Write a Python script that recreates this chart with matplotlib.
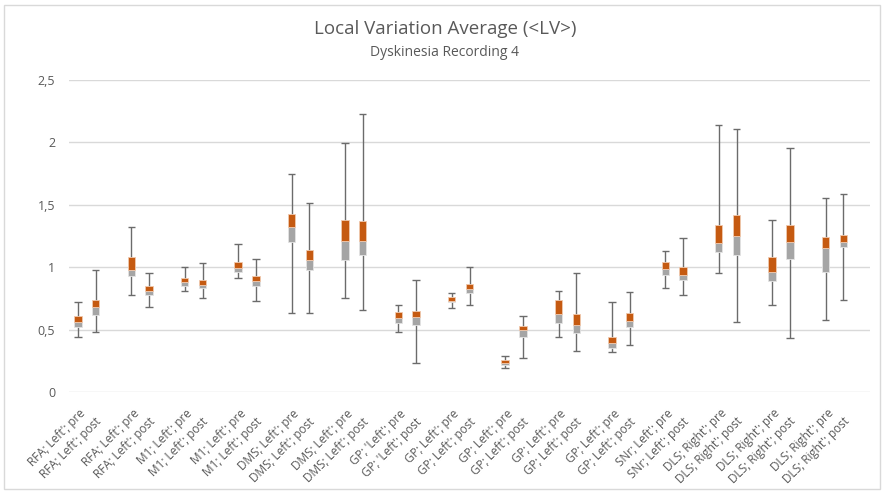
import matplotlib
matplotlib.use("Agg")
import matplotlib.pyplot as plt
from matplotlib.patches import Rectangle
import numpy as np

# Recording sites (one category per pair of pre/post boxes)
regions = ["RFA; Left'", "RFA; Left'", "M1; Left'", "M1; Left'",
           "DMS; Left'", "DMS; Left'", "GP; 'Left'", "GP; Left'",
           "GP; Left'", "GP; Left'", "GP; Left'", "SNr; Left'",
           "DLS; Right'", "DLS; Right'", "DLS; Right'"]

# Five-number summaries of <LV>, pre condition
pre_min = [0.44, 0.78, 0.81, 0.91, 0.63, 0.75, 0.48, 0.67, 0.19, 0.44, 0.32, 0.83, 0.95, 0.70, 0.58]
pre_q1  = [0.52, 0.93, 0.85, 0.96, 1.20, 1.06, 0.55, 0.72, 0.22, 0.55, 0.35, 0.94, 1.12, 0.89, 0.96]
pre_med = [0.56, 0.98, 0.88, 0.99, 1.32, 1.21, 0.59, 0.73, 0.235, 0.625, 0.39, 0.985, 1.19, 0.96, 1.15]
pre_q3  = [0.61, 1.08, 0.91, 1.04, 1.43, 1.38, 0.64, 0.76, 0.255, 0.74, 0.44, 1.04, 1.34, 1.08, 1.245]
pre_max = [0.72, 1.325, 1.00, 1.185, 1.75, 1.995, 0.70, 0.795, 0.29, 0.81, 0.725, 1.13, 2.14, 1.38, 1.555]

# Five-number summaries of <LV>, post condition
post_min = [0.48, 0.68, 0.75, 0.73, 0.63, 0.66, 0.23, 0.70, 0.27, 0.33, 0.38, 0.78, 0.56, 0.43, 0.74]
post_q1  = [0.62, 0.78, 0.83, 0.85, 0.98, 1.095, 0.54, 0.79, 0.44, 0.475, 0.52, 0.895, 1.10, 1.065, 1.165]
post_med = [0.68, 0.81, 0.86, 0.89, 1.06, 1.21, 0.60, 0.825, 0.50, 0.54, 0.57, 0.94, 1.25, 1.205, 1.205]
post_q3  = [0.74, 0.85, 0.90, 0.93, 1.135, 1.37, 0.65, 0.865, 0.53, 0.625, 0.635, 1.00, 1.42, 1.34, 1.255]
post_max = [0.98, 0.95, 1.03, 1.065, 1.515, 2.225, 0.895, 1.00, 0.605, 0.95, 0.80, 1.235, 2.11, 1.955, 1.59]

yticks = [0, 0.5, 1, 1.5, 2, 2.5]
ytick_labels = ["0", "0,5", "1", "1,5", "2", "2,5"]

ORANGE = "#c55a11"
GREY = "#a5a5a5"
WHISKER = "#6b6b6b"
GRID = "#d9d9d9"
TEXT = "#595959"

plt.rcParams["font.family"] = ["Open Sans", "DejaVu Sans"]

fig = plt.figure(figsize=(8.84, 4.92), dpi=100)
W, H = 884, 492
ax = fig.add_axes([69 / W, 1 - 392 / H, (870 - 69) / W, (392 - 80) / H])

n = len(regions)
x = np.arange(n)
offsets = {"pre": -1 / 3, "post": 0.0}
box_w = 0.135


def draw_boxes(xpos, lo, q1, med, q3, hi):
    lo, q1, med, q3, hi = map(np.asarray, (lo, q1, med, q3, hi))
    # whiskers with caps
    ax.vlines(xpos, lo, hi, color=WHISKER, lw=1.0, zorder=2)
    ax.hlines(lo, xpos - box_w / 2, xpos + box_w / 2, color=WHISKER, lw=1.0, zorder=2)
    ax.hlines(hi, xpos - box_w / 2, xpos + box_w / 2, color=WHISKER, lw=1.0, zorder=2)
    # lower half of the box (Q1 to median) and upper half (median to Q3)
    ax.bar(xpos, med - q1, bottom=q1, width=box_w, color=GREY,
           edgecolor="#e4e4e4", linewidth=0.6, zorder=3)
    ax.bar(xpos, q3 - med, bottom=med, width=box_w, color=ORANGE,
           edgecolor="#f0c9ae", linewidth=0.6, zorder=3)


draw_boxes(x + offsets["pre"], pre_min, pre_q1, pre_med, pre_q3, pre_max)
draw_boxes(x + offsets["post"], post_min, post_q1, post_med, post_q3, post_max)

ax.set_xlim(-0.5, n - 0.5)
ax.set_ylim(0, 2.5)
ax.set_yticks(yticks)
ax.set_yticklabels(ytick_labels)
ax.yaxis.grid(True, color=GRID, lw=1.0)
ax.set_axisbelow(True)
for s in ax.spines.values():
    s.set_visible(False)
ax.tick_params(axis="y", length=0, pad=10, labelsize=9, labelcolor=TEXT)
ax.set_xticks([])

# two-line category labels, rotated
for i, reg in enumerate(regions):
    ax.annotate(f"{reg}; pre\n{reg}; post",
                xy=(i - 0.24, 0), xycoords=("data", "axes fraction"),
                xytext=(0, -8), textcoords="offset points",
                rotation=45, rotation_mode="anchor",
                ha="right", va="top", multialignment="left",
                fontsize=8.5, color=TEXT, linespacing=1.4)

fig.text(445 / W, 1 - 29 / H, "Local Variation Average (<LV>)",
         ha="center", va="center", fontsize=13.5, color=TEXT)
fig.text(445 / W, 1 - 52 / H, "Dyskinesia Recording 4",
         ha="center", va="center", fontsize=10, color=TEXT)

# chart frame
fig.patches.append(Rectangle((4 / W, 3 / H), 876 / W, 484 / H,
                             transform=fig.transFigure, fill=False,
                             edgecolor=GRID, lw=1.0))

fig.savefig("out.png", dpi=100)
